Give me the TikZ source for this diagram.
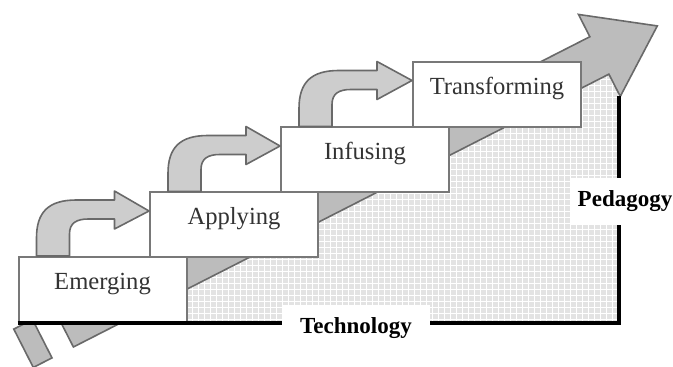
\documentclass[tikz,border=0pt]{standalone}
\usepackage{fontspec}
\setmainfont{Liberation Serif}
\usetikzlibrary{patterns}

\definecolor{arrowgray}{RGB}{188,188,188}
\definecolor{stepgray}{RGB}{205,205,205}
\definecolor{edgegray}{RGB}{105,105,105}
\definecolor{boxgray}{RGB}{120,120,120}

\tikzset{
  stagebox/.style={draw=boxgray, line width=1pt, fill=white, minimum width=84pt, minimum height=32.5pt,
    text height=9pt, text depth=9pt, text=black!80, font=\fontsize{12.3}{14}\selectfont},
  steparrow/.style={draw=edgegray, line width=0.8pt, fill=stepgray, line join=round},
  bigarrow/.style={draw=edgegray, line width=0.8pt, fill=arrowgray, line join=miter},
  axisline/.style={line width=1.6pt, black},
  axislabel/.style={fill=white, font=\bfseries\fontsize{11.5}{13}\selectfont, inner sep=0pt}
}

\begin{document}
\begin{tikzpicture}[x=0.5pt, y=-0.5pt]
\useasboundingbox (0,0) rectangle (673,367);

% dotted quadrant under the big arrow
\fill[black!11] (187,290) -- (619,68) -- (619,323) -- (187,323) -- cycle;
\fill[pattern=grid, pattern color=white] (187,290) -- (619,68) -- (619,323) -- (187,323) -- cycle;

% big arrow behind the steps
\begin{scope}[shift={(187,288)}, rotate=27]
  \draw[bigarrow] (-173,-42) -- (-152,-42) -- (-152,1) -- (-173,1) -- cycle;
  \draw[bigarrow] (-128,1) -- (473,1) -- (473,26) -- (538,-20) -- (473,-66) -- (473,-41) -- (-128,-41) -- cycle;
\end{scope}

\node[stagebox] (emerging) at (102.5,289.5) {Emerging};
\node[stagebox] (applying) at (234,225) {Applying};
\node[stagebox] (infusing) at (365,160) {Infusing};
\node[stagebox] (transforming) at (497,94.5) {Transforming};

% bent arrows between the steps
\foreach \lo/\hi in {emerging/applying, applying/infusing, infusing/transforming}{
  \begin{scope}[shift={(\lo.north west)}, xshift=9.5pt]
    \draw[steparrow] (0,0) -- (0,-18) .. controls (0,-44) and (12,-56) .. (40,-56) -- (78,-56) -- (78,-65)
      -- ([yshift=7pt]\hi.west) -- (78,-27) -- (78,-37) -- (52,-37) .. controls (40,-37) and (33,-33) .. (33,-22) -- (33,0) -- cycle;
  \end{scope}
}

% axes
\coordinate (corner) at (619,323);
\coordinate (ptop) at (619,96);
\draw[axisline] (emerging.south west) -- (corner) -- (ptop);
\node[axislabel, minimum width=74pt, minimum height=23pt] (technology) at (356,328) {Technology};
\node[axislabel, minimum width=55pt, minimum height=23.5pt] (pedagogy) at (625,201.5) {Pedagogy};
\end{tikzpicture}
\end{document}
